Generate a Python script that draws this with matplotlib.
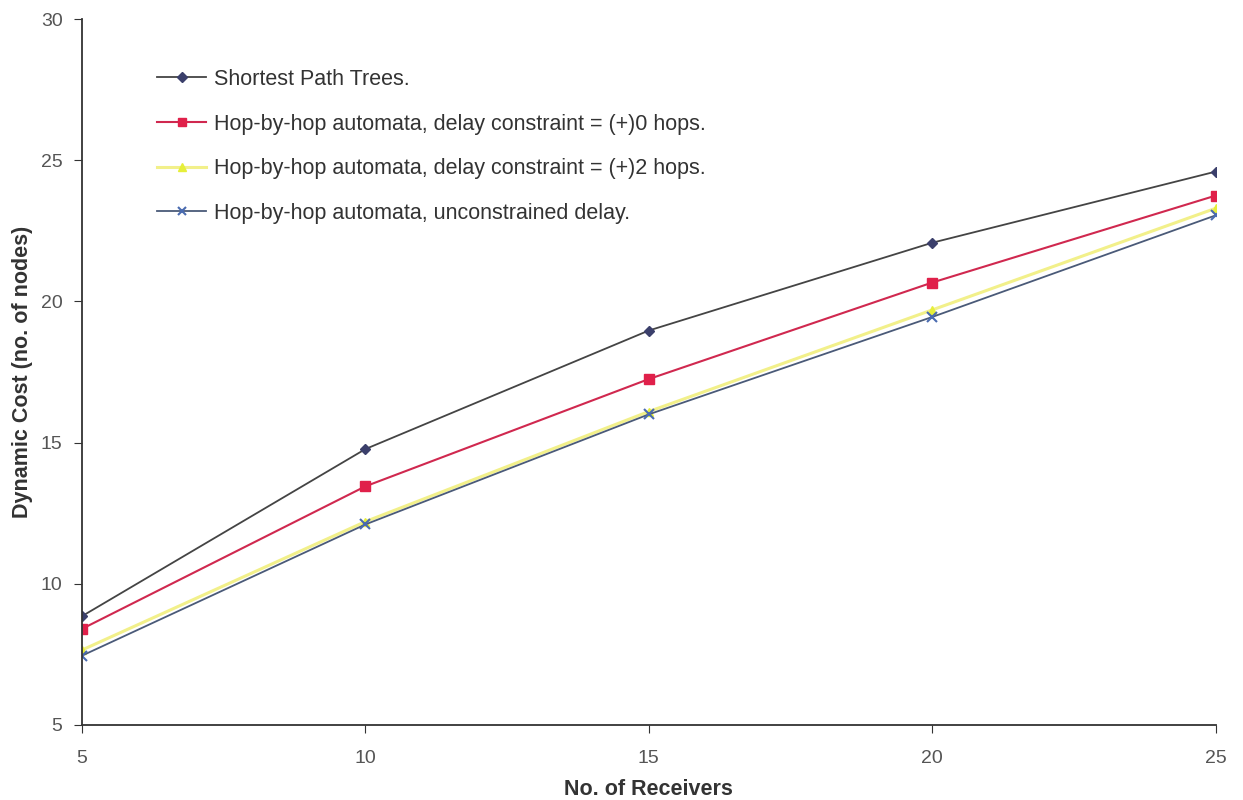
import matplotlib
matplotlib.use("Agg")
import matplotlib.pyplot as plt

plt.rcParams['font.family'] = ['Liberation Sans', 'DejaVu Sans']

receivers = [5, 10, 15, 20, 25]
spt = [8.85, 14.77, 18.97, 22.08, 24.6]
hop0 = [8.4, 13.45, 17.25, 20.67, 23.75]
hop2 = [7.65, 12.2, 16.1, 19.7, 23.3]
unconstrained = [7.45, 12.1, 16.0, 19.45, 23.05]

labels = ['Shortest Path Trees.',
          'Hop-by-hop automata, delay constraint = (+)0 hops.',
          'Hop-by-hop automata, delay constraint = (+)2 hops.',
          'Hop-by-hop automata, unconstrained delay.']

fig = plt.figure(figsize=(12.43, 8), dpi=100)
ax = fig.add_axes([0.066, 0.094, 0.912, 0.882])

ax.plot(receivers, spt, color='#444444', lw=1.3, marker='D', ms=5.5,
        mfc='#3b3f6b', mec='#3b3f6b', label=labels[0])
ax.plot(receivers, hop0, color='#d0284f', lw=1.5, marker='s', ms=7,
        mfc='#e0204a', mec='#e0204a', label=labels[1])
ax.plot(receivers, hop2, color='#f2f08a', lw=2.2, marker='^', ms=6,
        mfc='#e6ef3a', mec='#e6ef3a', label=labels[2])
ax.plot(receivers, unconstrained, color='#4a5a78', lw=1.3, marker='x', ms=7,
        mew=1.5, mec='#4a6bb0', label=labels[3])

ax.set_xlim(5, 25)
ax.set_ylim(5, 30)
ax.set_xticks(receivers)
ax.set_yticks([5, 10, 15, 20, 25, 30])
ax.spines['top'].set_visible(False)
ax.spines['right'].set_visible(False)
for s in ['left', 'bottom']:
    ax.spines[s].set_color('#333333')
    ax.spines[s].set_linewidth(1.3)
ax.tick_params(colors='#333333', labelsize=14, length=6, labelcolor='#555555')
ax.tick_params(axis='x', pad=12)
ax.tick_params(axis='y', pad=8)

ax.set_xlabel('No. of Receivers', fontsize=15.5, fontweight='bold', color='#333333', labelpad=9)
ax.set_ylabel('Dynamic Cost (no. of nodes)', fontsize=15.5, fontweight='bold', color='#333333', labelpad=6)

ax.legend(loc='upper left', bbox_to_anchor=(0.049, 0.957), frameon=False,
          fontsize=15.5, labelspacing=1.1, handlelength=2.3, handletextpad=0.37,
          labelcolor='#333333', markerscale=0.85)

fig.savefig('out.png', dpi=100)
